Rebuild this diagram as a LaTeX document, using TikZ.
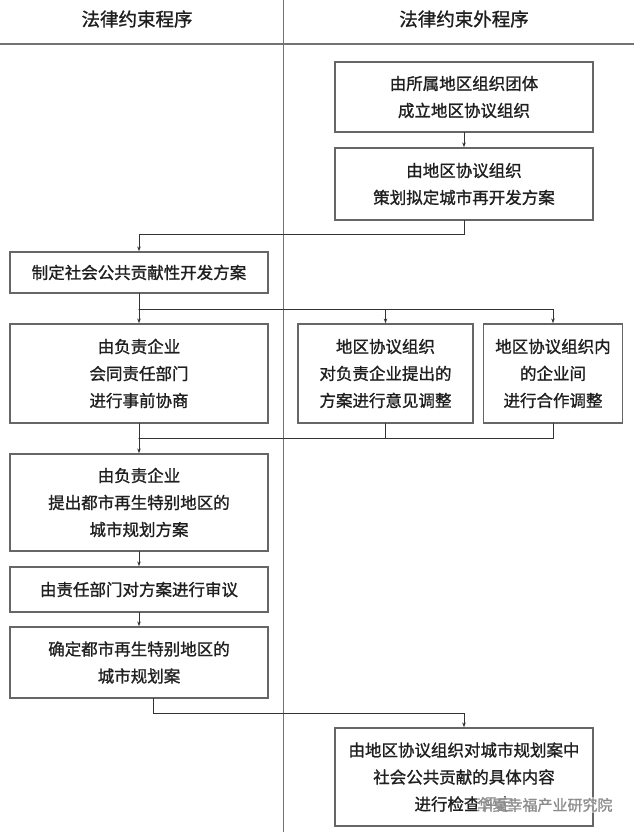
\documentclass[tikz,border=0pt]{standalone}
\usepackage{fontspec}
\usepackage{tikz}
\usetikzlibrary{arrows.meta,calc}
\newfontfamily\cjk[FakeBold=1.2]{Noto Sans CJK SC}

\begin{document}
\begin{tikzpicture}
		[x=1pt,y=-1pt,line cap=round,
		%Styles
		stepbox/.style={draw=boxcolor,line width=1.3pt,rectangle,align=center,inner sep=0pt,
			font=\cjk\fontsize{16.5}{27}\selectfont,text=textcolor},
		flow/.style={draw=linecolor,line width=1pt},
		arrow/.style={flow,-{Stealth[length=5pt,width=3.5pt]}},
		header/.style={font=\cjk\fontsize{18.5}{22}\selectfont,text=textcolor}
		]
		
		%Colors
		\colorlet{boxcolor}{black!60}
		\colorlet{linecolor}{black!80}
		\colorlet{textcolor}{black!88}
		\colorlet{rulecolor}{black!55}
		
		\useasboundingbox (0,0) rectangle (634,832);
		
		%Header
		\node[header] (lawhead) at (137,19) {法律约束程序};
		\node[header] (outhead) at (464,19) {法律约束外程序};
		\draw[rulecolor,line width=1.8pt] (0,44) -- (634,44);
		\draw[rulecolor,line width=0.8pt] (283,0) -- (283,832);
		
		%The boxes
		\node[stepbox,minimum width=258pt,minimum height=70pt] (found) at (464,97) {由所属地区组织团体\\成立地区协议组织};
		\node[stepbox,minimum width=258pt,minimum height=72pt] (plan) at (464,184) {由地区协议组织\\策划拟定城市再开发方案};
		\node[stepbox,minimum width=258pt,minimum height=41pt] (draft) at (139,272.5) {制定社会公共贡献性开发方案};
		\node[stepbox,minimum width=258pt,minimum height=99pt] (consult) at (139,373.5) {由负责企业\\会同责任部门\\进行事前协商};
		\node[stepbox,minimum width=175pt,minimum height=99pt] (adjust) at (385.5,373.5) {地区协议组织\\对负责企业提出的\\方案进行意见调整};
		\node[stepbox,minimum width=139pt,minimum height=99pt] (coop) at (553,373.5) {地区协议组织内\\的企业间\\进行合作调整};
		\node[stepbox,minimum width=258pt,minimum height=97pt] (propose) at (139,502.5) {由负责企业\\提出都市再生特别地区的\\城市规划方案};
		\node[stepbox,minimum width=258pt,minimum height=45pt] (review) at (139,589.5) {由责任部门对方案进行审议};
		\node[stepbox,minimum width=258pt,minimum height=71pt] (decide) at (139,662.5) {确定都市再生特别地区的\\城市规划案};
		\node[stepbox,minimum width=258pt,minimum height=98pt] (check) at (464,777) {由地区协议组织对城市规划案中\\社会公共贡献的具体内容\\进行检查评定};
		
		%Watermark
		\node[font=\cjk\fontsize{15}{18}\selectfont,text=black!45,fill=white,fill opacity=0.5,text opacity=1,inner sep=1pt] (mark) at (545,805) {华夏幸福产业研究院};
		
		%The connectors
		\draw[arrow] (found.south) -- (plan.north);
		\draw[arrow] (plan.south) -- ++(0,14) -| (draft.north);
		
		\draw[flow] (draft.south) -- ++(0,16) coordinate (fork);
		\draw[arrow] (fork) -- (consult.north);
		\draw[arrow] (fork) -| (adjust.north);
		\draw[arrow] (fork) -| (coop.north);
		
		\coordinate (merge) at ($(consult.south)!0.5!(propose.north)$);
		\draw[arrow] (consult.south) -- (propose.north);
		\draw[flow] (adjust.south) |- (merge);
		\draw[flow] (coop.south) |- (merge);
		
		\draw[arrow] (propose.south) -- (review.north);
		\draw[arrow] (review.south) -- (decide.north);
		\draw[arrow] ([xshift=14pt]decide.south) -- ++(0,15) -| (check.north);
	\end{tikzpicture}
\end{document}
